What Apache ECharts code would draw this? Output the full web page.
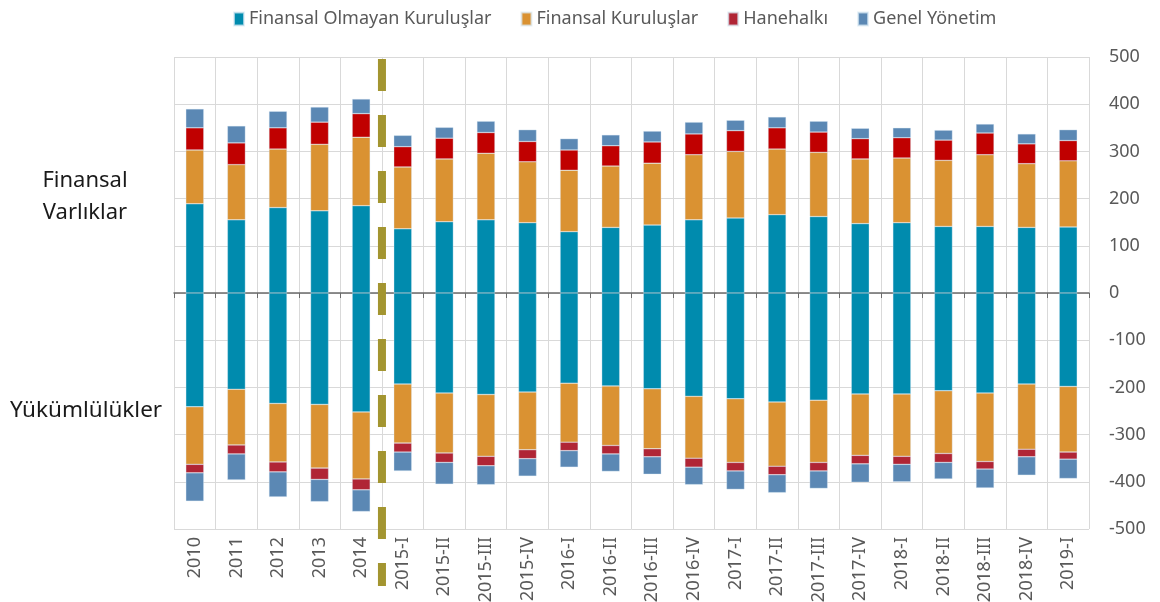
<!DOCTYPE html>
<html>
<head>
<meta charset="utf-8">
<script src="https://cdn.jsdelivr.net/npm/echarts@6/dist/echarts.min.js"></script>
<style>
  html, body { margin: 0; padding: 0; background: #fff; }
  #chart { width: 1160px; height: 602px; }
</style>
</head>
<body>
<div id="chart"></div>
<script>
const categories = ['2010', '2011', '2012', '2013', '2014', '2015-I', '2015-II', '2015-III', '2015-IV',
  '2016-I', '2016-II', '2016-III', '2016-IV', '2017-I', '2017-II', '2017-III', '2017-IV',
  '2018-I', '2018-II', '2018-III', '2018-IV', '2019-I'];

// Finansal varlıklar (pozitif)
const varlikFinansalOlmayan = [189, 155, 181, 174, 185, 136, 151, 155, 149, 130, 139, 144, 155, 159, 166, 162, 147, 149, 141, 141, 139, 140];
const varlikFinansal = [114, 117, 124, 141, 145, 131, 133, 141, 129, 130, 130, 131, 138, 141, 139, 136, 137, 137, 140, 152, 135, 140];
const varlikHanehalki = [47, 46, 45, 47, 50, 43, 44, 44, 43, 43, 43, 45, 44, 44, 45, 43, 43, 43, 43, 46, 42, 43];
const varlikGenelYonetim = [40, 36, 35, 32, 31, 24, 23, 24, 25, 24, 23, 23, 25, 22, 23, 23, 22, 21, 21, 19, 21, 23];

// Yükümlülükler (negatif)
const yukFinansalOlmayan = [-241, -204, -234, -236, -252, -193, -212, -215, -210, -191, -197, -203, -219, -224, -231, -227, -214, -214, -207, -212, -193, -198];
const yukFinansal = [-122, -118, -124, -135, -142, -125, -127, -131, -122, -125, -126, -127, -131, -135, -136, -132, -130, -132, -133, -145, -138, -139];
const yukHanehalki = [-18, -19, -21, -24, -23, -19, -20, -20, -19, -18, -18, -17, -19, -18, -18, -18, -18, -17, -19, -16, -16, -15];
const yukGenelYonetim = [-60, -55, -53, -47, -46, -40, -46, -40, -37, -35, -37, -37, -37, -39, -38, -37, -39, -37, -35, -40, -39, -41];

const legendNames = ['Finansal Olmayan Kuruluşlar', 'Finansal Kuruluşlar', 'Hanehalkı', 'Genel Yönetim'];
const yTicks = { min: -500, max: 500, interval: 100 };

const FONT = 'Noto Sans';
const myChart = echarts.init(document.getElementById('chart'));

const makeBar = (name, data, color) => ({
  name,
  type: 'bar',
  stack: 'toplam',
  xAxisIndex: 0,
  barWidth: 18,
  itemStyle: { color, borderColor: 'rgba(220,235,245,0.7)', borderWidth: 0.5 },
  data,
});

myChart.setOption({
  animation: false,
  textStyle: { fontFamily: FONT },
  legend: {
    top: 5,
    left: 228,
    icon: 'rect',
    itemWidth: 10,
    itemHeight: 13,
    itemGap: 29,
    textStyle: { fontSize: 18, color: '#595959', fontFamily: FONT },
    data: [
      { name: legendNames[0], itemStyle: { color: '#008BAE' } },
      { name: legendNames[1], itemStyle: { color: '#DA9232' } },
      { name: legendNames[2], itemStyle: { color: '#B02535' } },
      { name: legendNames[3], itemStyle: { color: '#5B88B4' } },
    ],
  },
  grid: { left: 174, right: 71, top: 57, bottom: 73, outerBoundsMode: 'none', containLabel: false },
  xAxis: [
    {
      type: 'category',
      data: categories,
      position: 'bottom',
      axisLine: { show: false, onZero: false },
      axisTick: { show: false },
      axisLabel: { rotate: 90, fontSize: 18, color: '#595959', margin: 8, interval: 0 },
      splitLine: { show: true, interval: 0, lineStyle: { color: '#D9D9D9', width: 1 } },
    },
    {
      type: 'category',
      data: categories,
      position: 'top',
      axisLine: { show: true, onZero: true, lineStyle: { color: '#6b6b6b', width: 1.5 } },
      axisTick: { show: true, inside: true, length: 5, interval: 0, lineStyle: { color: '#6b6b6b' } },
      axisLabel: { show: false },
      splitLine: { show: false },
    },
  ],
  yAxis: {
    type: 'value',
    position: 'right',
    min: yTicks.min,
    max: yTicks.max,
    interval: yTicks.interval,
    axisLine: { show: false },
    axisTick: { show: false },
    axisLabel: { fontSize: 18, color: '#595959', margin: 20 },
    splitLine: { lineStyle: { color: '#D9D9D9', width: 1 } },
  },
  series: [
    makeBar(legendNames[0], varlikFinansalOlmayan, '#008BAE'),
    makeBar(legendNames[0], yukFinansalOlmayan, '#008BAE'),
    makeBar(legendNames[1], varlikFinansal, '#DA9232'),
    makeBar(legendNames[1], yukFinansal, '#DA9232'),
    makeBar(legendNames[2], varlikHanehalki, '#C00000'),
    makeBar(legendNames[2], yukHanehalki, '#B02535'),
    makeBar(legendNames[3], varlikGenelYonetim, '#5B88B4'),
    makeBar(legendNames[3], yukGenelYonetim, '#5B88B4'),
  ],
});

// 2014 ile 2015-I arasındaki kesikli ayırıcı çizgi
const xa = myChart.convertToPixel({ xAxisIndex: 0 }, '2014');
const xb = myChart.convertToPixel({ xAxisIndex: 0 }, '2015-I');
const sepX = (xa + xb) / 2;
const yTop = myChart.convertToPixel({ yAxisIndex: 0 }, yTicks.max) + 2;

myChart.setOption({
  graphic: [
    {
      type: 'line',
      shape: { x1: sepX, y1: yTop, x2: sepX, y2: 586 },
      style: { stroke: '#A39530', lineWidth: 8, lineDash: [32, 24] },
      z: 10,
    },
    {
      type: 'text',
      x: 85,
      y: 165,
      style: {
        text: 'Finansal\nVarlıklar',
        align: 'center',
        fontSize: 22,
        lineHeight: 32,
        fill: '#1a1a1a',
        fontFamily: FONT,
      },
    },
    {
      type: 'text',
      x: 10,
      y: 399,
      style: { text: 'Yükümlülükler', fontSize: 22.5, fill: '#1a1a1a', fontFamily: FONT },
    },
  ],
});
</script>
</body>
</html>
